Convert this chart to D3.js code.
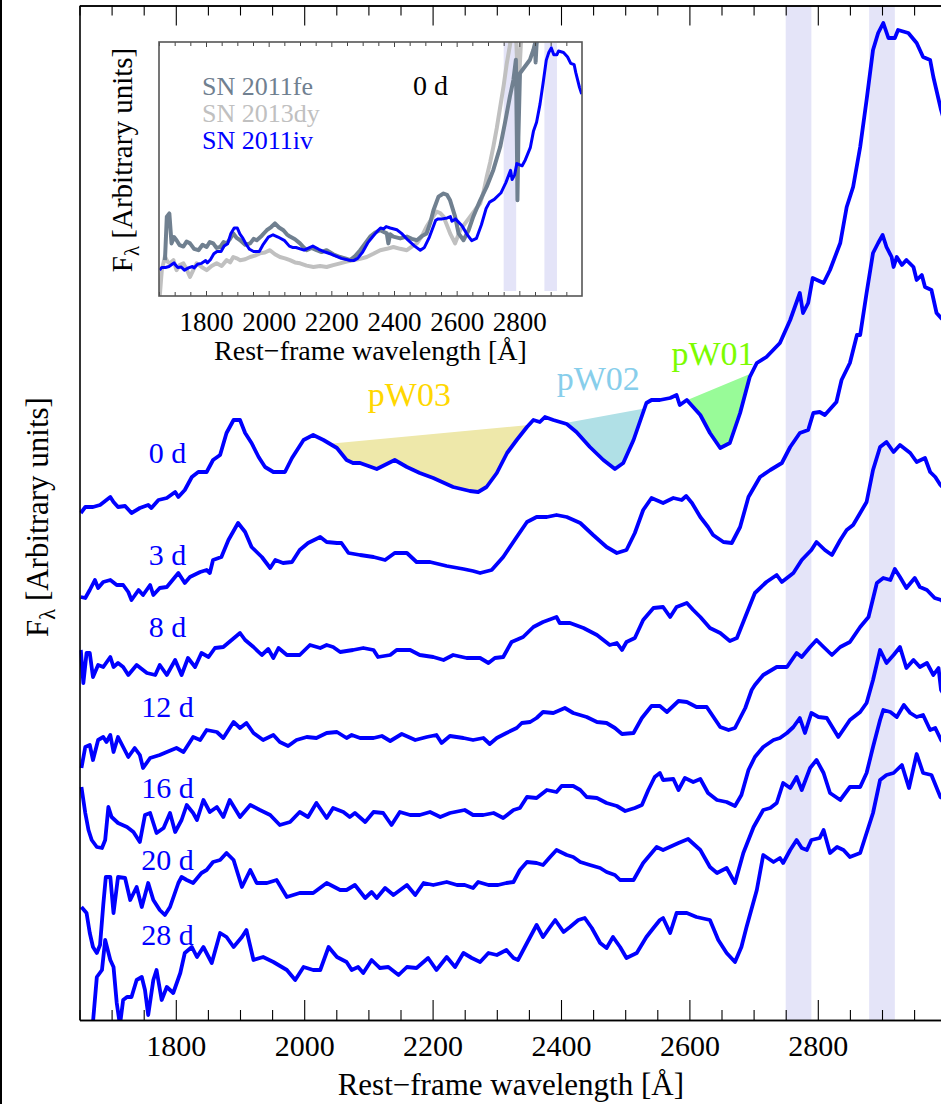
<!DOCTYPE html>
<html>
<head>
<meta charset="utf-8">
<script src="https://cdn.jsdelivr.net/npm/d3@7"></script>
<style>
  html, body { margin: 0; padding: 0; background: #fff; }
  svg { display: block; font-family: "Liberation Serif", "Times New Roman", serif; }
</style>
</head>
<body>
<svg id="chart" width="941" height="1104"></svg>
<script>
// ---------------------------------------------------------------------------
// SN 2011iv UV spectral sequence: [rest wavelength (Å), F_lambda (arbitrary, offset)]
// ---------------------------------------------------------------------------
const spec0d = [[1652,50.7],[1659,51.3],[1671,51.3],[1682,51.5],[1692,52.0],[1698,52.3],[1703,51.8],[1710,51.3],[1721,51.4],[1731,50.7],[1744,51.2],[1757,51.5],[1762,51.2],[1773,52.0],[1786,52.2],[1799,52.8],[1804,52.3],[1814,53.0],[1825,54.3],[1835,54.8],[1848,54.8],[1858,56.0],[1869,56.5],[1879,58.7],[1890,60.0],[1900,60.0],[1908,58.7],[1918,57.7],[1929,56.3],[1939,55.3],[1952,54.8],[1970,54.8],[1981,56.2],[1999,58.0],[2014,58.5],[2030,58.0],[2051,57.2],[2066,56.0],[2076,55.7],[2087,55.7],[2113,55.1],[2141,56.0],[2160,55.3],[2180,54.7],[2201,54.2],[2232,53.3],[2258,52.9],[2271,52.8],[2284,53.3],[2300,54.7],[2316,56.7],[2331,58.0],[2347,59.3],[2357,60.0],[2367,59.8],[2375,60.3],[2388,60.0],[2409,59.6],[2424,58.8],[2445,57.3],[2466,56.0],[2484,55.1],[2497,55.7],[2513,58.0],[2533,61.7],[2541,62.0],[2554,62.0],[2570,62.2],[2580,62.5],[2585,61.5],[2596,62.0],[2617,60.5],[2632,58.7],[2648,57.2],[2663,57.7],[2679,60.7],[2694,64.3],[2705,65.7],[2720,66.3],[2741,67.7],[2757,70.0],[2772,72.7],[2777,70.7],[2785,71.7],[2792,74.2],[2809,73.7],[2819,75.0],[2835,77.7],[2845,81.3],[2855,83.3],[2866,87.3],[2876,92.0],[2886,97.0],[2894,98.7],[2902,99.7],[2910,98.2],[2920,98.2],[2925,99.0],[2941,98.7],[2954,97.7],[2964,96.3],[2975,96.0],[2980,94.3],[2992,91.0],[2999,89.5]];

const spec3d = [[1652,42.3],[1659,42.2],[1666,43.0],[1674,44.0],[1679,43.2],[1687,43.8],[1698,44.0],[1708,43.5],[1718,43.5],[1726,42.8],[1731,42.0],[1742,43.0],[1749,42.5],[1760,43.5],[1765,42.5],[1775,43.2],[1786,43.3],[1804,44.7],[1814,43.7],[1822,44.3],[1838,44.8],[1848,45.0],[1853,44.7],[1858,46.0],[1871,46.3],[1882,48.0],[1897,49.7],[1908,48.8],[1918,47.3],[1926,46.8],[1934,46.3],[1947,45.2],[1955,46.0],[1967,45.7],[1981,45.8],[1993,47.0],[2006,47.7],[2025,48.3],[2035,47.8],[2051,47.7],[2058,47.7],[2069,46.7],[2087,46.5],[2108,46.3],[2126,46.0],[2141,46.7],[2160,46.7],[2175,45.8],[2196,45.8],[2222,45.4],[2248,45.1],[2263,44.9],[2274,44.7],[2292,45.0],[2310,46.3],[2331,48.3],[2347,49.8],[2362,50.3],[2378,50.3],[2393,50.5],[2409,50.3],[2430,49.7],[2450,48.5],[2471,47.3],[2487,46.7],[2502,47.0],[2515,48.7],[2528,51.0],[2541,52.2],[2559,51.7],[2575,52.2],[2588,52.0],[2595,52.4],[2604,51.7],[2617,50.3],[2629,49.3],[2637,48.5],[2653,47.8],[2666,47.7],[2679,49.3],[2692,52.3],[2710,54.3],[2726,55.0],[2744,55.7],[2757,57.3],[2772,58.7],[2785,59.0],[2793,60.7],[2803,60.8],[2811,60.5],[2829,61.8],[2837,64.0],[2850,65.7],[2861,68.5],[2866,68.5],[2876,72.7],[2886,76.7],[2894,77.7],[2901,78.5],[2907,77.3],[2915,76.3],[2918,75.3],[2923,76.3],[2931,75.5],[2938,76.0],[2949,75.3],[2954,74.0],[2962,74.5],[2967,73.3],[2977,73.0],[2985,70.7],[2992,70.2],[2999,69.8]];

const spec8d = [[1652,37.0],[1656,33.7],[1661,36.7],[1666,36.7],[1671,34.3],[1679,35.5],[1687,35.3],[1698,36.3],[1703,35.3],[1710,35.7],[1718,35.3],[1726,34.5],[1739,35.5],[1755,34.7],[1768,34.5],[1775,35.5],[1786,34.5],[1799,36.0],[1809,34.5],[1819,36.2],[1830,35.3],[1840,36.7],[1851,36.3],[1861,37.2],[1874,37.3],[1887,38.0],[1900,38.7],[1908,38.0],[1921,37.3],[1934,36.5],[1944,37.1],[1952,36.2],[1960,37.2],[1973,36.5],[1993,36.5],[2009,37.5],[2025,37.2],[2035,37.5],[2045,37.3],[2056,36.8],[2076,37.0],[2092,37.2],[2108,37.0],[2115,36.3],[2134,36.5],[2144,37.0],[2165,37.0],[2180,36.5],[2201,36.3],[2217,36.0],[2232,36.5],[2253,36.2],[2274,36.2],[2287,35.7],[2297,36.2],[2310,36.3],[2323,37.8],[2341,38.3],[2357,39.3],[2372,39.8],[2393,40.3],[2398,39.7],[2414,39.7],[2435,39.2],[2456,38.5],[2476,37.5],[2487,37.7],[2495,37.0],[2502,37.8],[2515,38.2],[2528,40.0],[2544,41.2],[2559,41.3],[2570,40.3],[2580,41.3],[2596,41.7],[2606,41.0],[2617,40.3],[2632,39.2],[2648,38.7],[2663,37.9],[2674,38.2],[2687,40.3],[2702,42.7],[2720,43.8],[2736,44.5],[2744,43.8],[2762,44.7],[2775,46.0],[2790,47.0],[2798,47.8],[2811,47.0],[2822,46.5],[2835,48.0],[2845,49.0],[2855,49.5],[2866,50.7],[2876,51.8],[2886,55.0],[2897,57.3],[2907,57.8],[2918,56.8],[2928,57.5],[2944,56.7],[2954,55.8],[2967,56.2],[2975,54.8],[2983,54.3],[2991,53.5],[2999,53.0]];

const spec12d = [[1653,25.2],[1659,27.3],[1666,27.5],[1671,26.0],[1679,28.0],[1687,28.3],[1692,27.8],[1698,28.5],[1703,26.8],[1710,28.3],[1718,27.3],[1726,26.3],[1736,27.2],[1744,26.5],[1749,25.2],[1760,26.2],[1775,26.5],[1786,26.8],[1801,27.2],[1812,26.8],[1827,28.3],[1838,28.0],[1848,29.0],[1864,28.8],[1874,28.2],[1890,29.8],[1900,29.2],[1910,29.7],[1921,28.7],[1936,28.0],[1952,28.5],[1962,27.8],[1975,27.4],[1988,28.0],[2004,28.3],[2019,28.2],[2035,28.7],[2051,28.8],[2066,28.2],[2074,28.5],[2087,28.2],[2108,28.2],[2121,28.4],[2134,27.9],[2152,28.6],[2173,28.0],[2191,28.3],[2206,28.5],[2214,27.7],[2227,28.4],[2248,28.2],[2263,28.0],[2279,28.2],[2289,27.6],[2300,28.2],[2315,28.7],[2331,29.2],[2339,29.7],[2352,29.8],[2362,30.2],[2372,30.8],[2388,30.7],[2406,31.2],[2419,30.7],[2440,30.3],[2456,29.8],[2471,29.7],[2484,29.2],[2495,28.6],[2513,28.7],[2526,30.2],[2541,31.4],[2554,31.4],[2565,30.8],[2583,31.9],[2596,31.8],[2611,31.3],[2627,31.3],[2648,29.3],[2661,29.0],[2671,29.2],[2687,31.2],[2697,33.0],[2702,33.5],[2715,34.5],[2736,35.3],[2752,35.3],[2767,36.7],[2775,36.3],[2788,37.3],[2798,38.0],[2809,37.3],[2822,36.5],[2835,37.3],[2850,37.8],[2866,39.3],[2879,40.3],[2892,43.7],[2902,44.2],[2913,44.0],[2920,45.1],[2928,44.3],[2938,43.2],[2951,44.2],[2959,43.3],[2970,43.0],[2982,42.2],[2992,42.0],[2999,41.6]];

const spec16d = [[1653,23.3],[1659,20.7],[1664,19.0],[1669,18.0],[1677,17.3],[1685,17.2],[1690,18.0],[1695,21.3],[1700,20.3],[1710,19.7],[1724,19.3],[1734,18.8],[1744,17.8],[1752,20.5],[1760,20.7],[1770,18.7],[1781,19.2],[1791,20.7],[1799,18.8],[1809,20.0],[1817,21.5],[1827,20.7],[1833,20.0],[1843,22.0],[1853,20.8],[1864,21.3],[1874,20.3],[1884,22.0],[1900,20.3],[1916,21.5],[1931,21.0],[1947,20.5],[1962,19.5],[1978,19.8],[1993,20.8],[2006,20.3],[2019,21.7],[2035,20.2],[2045,21.2],[2061,20.8],[2071,20.3],[2079,20.7],[2095,19.8],[2108,20.8],[2123,20.7],[2136,19.5],[2149,20.8],[2165,20.5],[2180,20.5],[2196,20.8],[2212,20.3],[2227,20.7],[2250,21.0],[2263,20.5],[2279,20.5],[2295,20.7],[2310,20.2],[2326,21.0],[2336,21.2],[2347,22.3],[2362,22.2],[2378,23.0],[2393,22.8],[2401,23.4],[2419,23.4],[2430,23.0],[2440,22.3],[2456,22.2],[2471,21.7],[2487,21.4],[2500,20.9],[2515,21.2],[2526,21.5],[2536,23.0],[2546,24.3],[2554,24.7],[2559,24.0],[2575,24.1],[2583,23.0],[2593,24.2],[2606,23.8],[2617,24.1],[2629,22.7],[2643,22.0],[2658,21.8],[2671,21.4],[2681,22.5],[2692,25.0],[2702,26.3],[2715,27.3],[2731,28.0],[2741,28.2],[2752,28.7],[2762,29.3],[2772,30.2],[2780,28.7],[2790,30.7],[2801,30.3],[2814,30.2],[2832,28.3],[2850,30.0],[2866,30.8],[2876,31.7],[2886,34.0],[2897,37.0],[2907,35.7],[2918,36.5],[2928,37.3],[2938,35.2],[2949,36.0],[2959,35.3],[2970,35.7],[2980,34.5],[2988,35.2],[2992,33.0],[2999,32.3]];

const spec20d = [[1653,11.3],[1661,10.7],[1666,8.7],[1671,7.3],[1677,6.7],[1682,7.5],[1687,11.5],[1691,14.3],[1698,14.3],[1703,10.7],[1710,14.3],[1721,14.2],[1729,12.0],[1739,13.3],[1747,11.3],[1757,13.7],[1765,12.0],[1775,11.0],[1783,10.5],[1791,11.3],[1804,13.7],[1809,14.3],[1817,14.0],[1827,13.7],[1840,14.7],[1848,15.0],[1858,15.8],[1869,16.0],[1879,16.7],[1890,16.0],[1903,13.3],[1916,15.0],[1926,13.7],[1942,13.7],[1957,14.0],[1973,12.3],[1993,12.7],[2014,12.7],[2035,13.7],[2056,13.0],[2066,13.0],[2079,13.5],[2095,12.2],[2105,12.8],[2113,12.2],[2126,13.2],[2139,12.5],[2160,13.5],[2173,12.5],[2186,13.7],[2201,13.5],[2222,13.8],[2238,13.5],[2250,13.5],[2263,13.2],[2271,13.8],[2287,13.5],[2302,13.5],[2315,13.7],[2326,13.8],[2336,15.0],[2347,15.8],[2362,15.7],[2372,15.5],[2383,16.3],[2393,17.0],[2409,16.5],[2419,16.3],[2430,15.8],[2445,15.5],[2461,15.2],[2471,14.8],[2484,14.5],[2492,14.0],[2513,14.0],[2528,15.7],[2549,17.3],[2559,17.0],[2583,17.7],[2598,18.1],[2617,17.0],[2632,15.3],[2643,14.7],[2658,15.2],[2671,13.7],[2684,16.7],[2700,19.3],[2715,21.0],[2726,21.2],[2736,21.7],[2746,23.7],[2757,23.2],[2767,24.3],[2775,23.0],[2788,25.2],[2798,26.0],[2809,24.7],[2819,22.7],[2835,22.0],[2850,23.3],[2866,23.3],[2876,24.7],[2886,27.3],[2897,30.0],[2902,31.0],[2913,30.8],[2923,30.3],[2934,31.5],[2944,30.7],[2954,30.3],[2964,30.5],[2975,29.0],[2983,29.2],[2992,28.0],[2999,27.5]];

const spec28d = [[1652,-0.5],[1663,-0.5],[1671,-0.2],[1677,4.3],[1685,5.0],[1690,8.0],[1698,6.0],[1703,5.3],[1708,1.7],[1713,-0.5],[1718,2.0],[1724,2.3],[1731,2.3],[1739,4.0],[1747,4.3],[1752,3.0],[1757,0.5],[1765,4.0],[1770,5.0],[1778,2.0],[1786,3.3],[1796,2.7],[1807,4.7],[1814,6.7],[1825,7.3],[1833,6.3],[1843,7.3],[1856,5.7],[1869,8.7],[1879,8.3],[1890,7.3],[1903,8.3],[1910,9.0],[1921,6.0],[1936,6.3],[1952,5.8],[1973,5.0],[1986,4.0],[1999,5.3],[2014,5.0],[2025,5.0],[2038,7.3],[2051,6.3],[2066,5.8],[2074,5.0],[2084,5.3],[2092,4.7],[2105,6.0],[2113,5.5],[2118,5.2],[2131,5.3],[2147,4.5],[2160,5.3],[2175,5.2],[2193,6.2],[2206,5.0],[2222,6.3],[2235,5.3],[2248,6.7],[2261,6.2],[2274,5.8],[2287,6.7],[2300,6.5],[2315,7.0],[2326,6.2],[2333,6.0],[2347,7.7],[2362,9.5],[2372,8.3],[2383,9.3],[2391,10.0],[2404,8.8],[2414,9.3],[2427,10.0],[2437,10.2],[2448,9.2],[2461,7.7],[2471,7.2],[2481,8.3],[2492,7.3],[2502,6.2],[2518,6.7],[2533,8.3],[2544,9.2],[2554,10.0],[2559,10.2],[2570,8.7],[2580,10.7],[2596,10.7],[2611,10.3],[2632,10.0],[2645,8.0],[2658,6.7],[2671,5.8],[2681,7.3],[2689,9.3],[2705,13.0],[2715,16.5],[2731,15.8],[2741,16.2],[2746,15.7],[2757,17.0],[2767,18.0],[2775,17.2],[2783,17.0],[2790,18.0],[2803,18.2],[2809,19.0],[2819,16.7],[2830,17.3],[2840,17.0],[2850,16.3],[2866,16.7],[2876,18.7],[2886,20.7],[2897,24.0],[2907,24.5],[2918,24.7],[2931,25.5],[2942,23.2],[2954,26.6],[2964,24.7],[2977,24.5],[2991,22.3],[2999,22.0]];

const epochs = ["0 d", "3 d", "8 d", "12 d", "16 d", "20 d", "28 d"];
const spectra = [spec0d, spec3d, spec8d, spec12d, spec16d, spec20d, spec28d];

// Comparison spectra at maximum light (same arbitrary flux units as the 0 d curve)
const sn2011fe = [[1669,52.9],[1675,62.5],[1683,63.2],[1690,56.6],[1698,58.0],[1706,57.3],[1716,56.2],[1728,55.9],[1738,57.0],[1749,56.6],[1762,55.4],[1776,55.1],[1789,56.3],[1802,55.8],[1812,56.9],[1823,56.6],[1834,55.6],[1845,55.8],[1856,56.9],[1866,56.6],[1877,57.6],[1887,58.8],[1898,57.8],[1909,57.3],[1925,56.3],[1941,56.6],[1952,57.6],[1962,57.3],[1978,58.3],[1994,59.5],[2008,60.2],[2020,61.0],[2033,60.1],[2047,59.5],[2058,58.6],[2068,58.1],[2084,57.5],[2100,56.6],[2111,55.8],[2121,55.1],[2137,55.6],[2153,55.1],[2169,54.7],[2185,55.1],[2206,54.2],[2228,53.6],[2244,53.3],[2260,52.9],[2276,53.8],[2292,55.1],[2308,56.6],[2324,58.1],[2340,59.0],[2356,59.5],[2377,58.8],[2382,56.6],[2388,58.6],[2398,58.1],[2420,57.7],[2441,58.1],[2457,57.6],[2473,57.3],[2489,58.2],[2504,58.8],[2515,61.0],[2526,63.9],[2542,66.9],[2558,67.6],[2569,67.3],[2579,66.1],[2595,62.5],[2606,58.8],[2622,57.3],[2638,59.5],[2653,62.5],[2675,66.1],[2696,69.1],[2717,72.8],[2739,77.9],[2754,83.1],[2770,89.0],[2781,92.6],[2789,97.1],[2792,80.0],[2794,66.1],[2797,80.0],[2802,94.1],[2818,95.6],[2834,97.1],[2845,99.3],[2850,100.7],[2852,96.5],[2855,100.5],[2861,103.7]];

const sn2013dy = [[1651,44.5],[1653,45.5],[1659,50.7],[1669,53.7],[1677,52.6],[1685,52.2],[1696,52.9],[1706,50.7],[1716,51.8],[1728,52.2],[1738,50.9],[1749,49.2],[1760,50.8],[1770,52.2],[1786,51.4],[1802,50.7],[1818,51.6],[1834,52.2],[1850,51.6],[1866,52.9],[1877,52.4],[1887,53.6],[1898,53.3],[1909,52.9],[1925,53.1],[1941,53.6],[1956,53.9],[1972,54.4],[1988,54.6],[2004,55.1],[2020,54.2],[2036,53.6],[2052,53.3],[2068,52.9],[2084,52.4],[2100,52.2],[2121,51.7],[2143,51.4],[2164,51.6],[2185,51.4],[2206,51.8],[2228,52.2],[2249,52.6],[2270,52.9],[2292,53.2],[2313,53.6],[2334,54.3],[2356,55.1],[2377,55.4],[2398,55.8],[2420,55.4],[2441,55.1],[2457,55.9],[2473,56.6],[2489,58.2],[2504,60.3],[2520,62.0],[2536,63.6],[2547,63.3],[2558,62.5],[2569,60.6],[2579,58.8],[2595,56.6],[2611,59.5],[2627,61.0],[2643,62.5],[2659,64.0],[2675,65.4],[2686,68.0],[2696,71.3],[2707,74.5],[2717,77.9],[2728,82.0],[2739,86.7],[2750,91.4],[2760,96.3],[2771,100.7],[2776,103.7],[2788,103.7],[2790,101.5],[2797,89.7],[2805,100.7],[2813,103.7]];

// Mg II / blended feature windows shaded in both panels (Å)
const featureBands = [[2750, 2790], [2880, 2920]];

// pseudo-equivalent-width regions measured on the 0 d spectrum (Å)
const pwNames = ["pW03", "pW02", "pW01"];
const pwRanges = [[2040, 2350], [2405, 2530], [2595, 2697]];
const pwFill = ["#eee8aa", "#b0e0e6", "#98fb98"];
const pwText = ["#ffd700", "#87ceeb", "#7cfc00"];

// wavelength ticks
const majorTicks = [1800, 2000, 2200, 2400, 2600, 2800];
const minorTicks = d3.range(1650, 3001, 50).filter(v => v % 200 !== 0);

// inset legend
const insetNames = ["SN 2011fe", "SN 2013dy", "SN 2011iv"];
const insetColors = ["#708090", "#c0c0c0", "#0000ff"];

// ---------------------------------------------------------------------------
const svg = d3.select("#chart");
const FONT = "'Liberation Serif', 'Times New Roman', serif";

const frame = { left: 79.5, right: 946.2, top: 5.5, bottom: 1020 };
const x = d3.scaleLinear().domain([1650, 3000]).range([frame.left, frame.right]);
const y = d3.scaleLinear().domain([0, 101.45]).range([frame.bottom, frame.top]);

const defs = svg.append("defs");
defs.append("clipPath").attr("id", "clip-main").append("rect")
  .attr("x", frame.left).attr("y", frame.top)
  .attr("width", frame.right - frame.left).attr("height", frame.bottom - frame.top);

// thin page border on the left edge
svg.append("rect").attr("x", 0).attr("y", 0).attr("width", 2).attr("height", 1104).attr("fill", "#000");

const plot = svg.append("g").attr("clip-path", "url(#clip-main)");

plot.selectAll("rect.band").data(featureBands).join("rect")
  .attr("class", "band")
  .attr("x", d => x(d[0])).attr("width", d => x(d[1]) - x(d[0]))
  .attr("y", frame.top).attr("height", frame.bottom - frame.top)
  .attr("fill", "#e4e4f8");

// linear interpolation of a spectrum at wavelength w
function fluxAt(spec, w) {
  const i = d3.bisector(d => d[0]).left(spec, w);
  if (i <= 0) return spec[0][1];
  if (i >= spec.length) return spec[spec.length - 1][1];
  const a = spec[i - 1], b = spec[i];
  const t = (w - a[0]) / (b[0] - a[0]);
  return a[1] + t * (b[1] - a[1]);
}

// pseudo-continuum polygons on the 0 d spectrum
const pwPolys = pwRanges.map(([w1, w2]) => {
  const inner = spec0d.filter(d => d[0] > w1 && d[0] < w2);
  return [[w1, fluxAt(spec0d, w1)], ...inner, [w2, fluxAt(spec0d, w2)]];
});
plot.selectAll("path.pw").data(pwPolys).join("path")
  .attr("class", "pw")
  .attr("d", d => "M" + d.map(p => x(p[0]) + "," + y(p[1])).join("L") + "Z")
  .attr("fill", (d, i) => pwFill[i]).attr("stroke", "none");

const line = d3.line().x(d => x(d[0])).y(d => y(d[1]));
plot.selectAll("path.spec").data(spectra).join("path")
  .attr("class", "spec")
  .attr("d", line)
  .attr("fill", "none").attr("stroke", "#0000ff")
  .attr("stroke-width", 3.8).attr("stroke-linejoin", "round");

// pW labels above each pseudo-continuum
const pwLabelLift = [28, 26, 22];
const pwLabelShift = [-20, -6, -6];
svg.selectAll("text.pwlab").data(pwNames).join("text")
  .attr("class", "pwlab")
  .attr("x", (d, i) => x((pwRanges[i][0] + pwRanges[i][1]) / 2) + pwLabelShift[i])
  .attr("y", (d, i) => y((fluxAt(spec0d, pwRanges[i][0]) + fluxAt(spec0d, pwRanges[i][1])) / 2) - pwLabelLift[i])
  .attr("text-anchor", "middle")
  .attr("font-family", FONT).attr("font-size", 34)
  .attr("fill", (d, i) => pwText[i])
  .text(d => d);

// epoch labels (left, in the blue of the spectra)
const epochLabelFlux = [55.7, 45.5, 38.3, 30.3, 22.2, 15.0, 7.5];
svg.selectAll("text.epoch").data(epochs).join("text")
  .attr("class", "epoch")
  .attr("x", x(1787)).attr("y", (d, i) => y(epochLabelFlux[i]))
  .attr("text-anchor", "middle")
  .attr("font-family", FONT).attr("font-size", 30)
  .attr("fill", "#0000ff")
  .text(d => d);

// axes
const axisStyle = g => {
  g.selectAll("path.domain").attr("stroke", "#000").attr("stroke-width", 1.6);
  g.selectAll(".tick line").attr("stroke", "#000").attr("stroke-width", 1.1);
  g.selectAll(".tick text").attr("font-family", FONT).attr("font-size", 30).attr("fill", "#000");
};

const axisB = svg.append("g").attr("transform", `translate(0,${frame.bottom})`);
axisB.append("g").call(d3.axisBottom(x).tickValues(minorTicks).tickSize(-10).tickSizeOuter(0).tickFormat(""))
  .call(axisStyle);
axisB.append("g").call(d3.axisBottom(x).tickValues(majorTicks).tickSize(-20).tickSizeOuter(0).tickPadding(15).tickFormat(d3.format("d")))
  .call(axisStyle);

const axisT = svg.append("g").attr("transform", `translate(0,${frame.top})`);
axisT.append("g").call(d3.axisTop(x).tickValues(minorTicks).tickSize(-10).tickSizeOuter(0).tickFormat(""))
  .call(axisStyle);
axisT.append("g").call(d3.axisTop(x).tickValues(majorTicks).tickSize(-20).tickSizeOuter(0).tickFormat(""))
  .call(axisStyle);

svg.append("g").attr("transform", `translate(${frame.left},0)`)
  .call(d3.axisLeft(y).tickValues([]).tickSizeOuter(0))
  .call(axisStyle);

svg.append("text")
  .attr("x", (frame.left + frame.right) / 2 - 2).attr("y", 1095)
  .attr("text-anchor", "middle")
  .attr("font-family", FONT).attr("font-size", 31)
  .text("Rest\u2212frame wavelength [\u00c5]");

function fLambdaLabel(sel, size, sub) {
  sel.append("tspan").text("F");
  sel.append("tspan").attr("dy", sub).attr("font-size", size * 0.72).text("\u03bb");
  sel.append("tspan").attr("dy", -sub).text(" [Arbitrary units]");
}
svg.append("text")
  .attr("transform", "translate(48,517) rotate(-90)")
  .attr("text-anchor", "middle")
  .attr("font-family", FONT).attr("font-size", 31)
  .call(fLambdaLabel, 31, 7);

// ---------------------------------------------------------------------------
// inset: SN 2011iv at 0 d against SN 2011fe and SN 2013dy
// ---------------------------------------------------------------------------
const ibox = { left: 159, right: 582, top: 42, bottom: 296 };
const ix = d3.scaleLinear().domain([1650, 3000]).range([ibox.left, ibox.right]);
const iy = d3.scaleLinear().domain([45, 101]).range([ibox.bottom, ibox.top]);

defs.append("clipPath").attr("id", "clip-inset").append("rect")
  .attr("x", ibox.left).attr("y", ibox.top)
  .attr("width", ibox.right - ibox.left).attr("height", ibox.bottom - ibox.top);

const inset = svg.append("g");
inset.append("rect")
  .attr("x", ibox.left).attr("y", ibox.top)
  .attr("width", ibox.right - ibox.left).attr("height", ibox.bottom - ibox.top)
  .attr("fill", "#fff");

const iplot = inset.append("g").attr("clip-path", "url(#clip-inset)");
iplot.selectAll("rect.band").data(featureBands).join("rect")
  .attr("x", d => ix(d[0])).attr("width", d => ix(d[1]) - ix(d[0]))
  .attr("y", ibox.top + 1).attr("height", iy(46.1) - ibox.top - 1)
  .attr("fill", "#e4e4f8");

const iline = d3.line().x(d => ix(d[0])).y(d => iy(d[1]));
iplot.selectAll("path.cmp").data([sn2013dy, sn2011fe, spec0d]).join("path")
  .attr("d", iline).attr("fill", "none")
  .attr("stroke", (d, i) => [insetColors[1], insetColors[0], insetColors[2]][i])
  .attr("stroke-width", (d, i) => [4, 4, 3][i])
  .attr("stroke-linejoin", "round");

const iaxisB = inset.append("g").attr("transform", `translate(0,${ibox.bottom})`);
iaxisB.append("g").call(d3.axisBottom(ix).tickValues(minorTicks).tickSize(-4).tickSizeOuter(0).tickFormat(""));
iaxisB.append("g").call(d3.axisBottom(ix).tickValues(majorTicks).tickSize(-5).tickSizeOuter(0).tickPadding(16).tickFormat(d3.format("d")));
const iaxisT = inset.append("g").attr("transform", `translate(0,${ibox.top})`);
iaxisT.append("g").call(d3.axisTop(ix).tickValues(minorTicks).tickSize(-4).tickSizeOuter(0).tickFormat(""));
iaxisT.append("g").call(d3.axisTop(ix).tickValues(majorTicks).tickSize(-5).tickSizeOuter(0).tickFormat(""));
inset.selectAll("path.domain").remove();
inset.selectAll(".tick line").attr("stroke", "#444").attr("stroke-width", 1);
inset.selectAll(".tick text").attr("font-family", FONT).attr("font-size", 27).attr("fill", "#000");

inset.append("rect")
  .attr("x", ibox.left).attr("y", ibox.top)
  .attr("width", ibox.right - ibox.left).attr("height", ibox.bottom - ibox.top)
  .attr("fill", "none").attr("stroke", "#555").attr("stroke-width", 1.6);

inset.append("text")
  .attr("x", (ibox.left + ibox.right) / 2).attr("y", 360)
  .attr("text-anchor", "middle")
  .attr("font-family", FONT).attr("font-size", 28)
  .text("Rest\u2212frame wavelength [\u00c5]");

inset.append("text")
  .attr("transform", "translate(132,160) rotate(-90)")
  .attr("text-anchor", "middle")
  .attr("font-family", FONT).attr("font-size", 29)
  .call(fLambdaLabel, 29, 7);

inset.selectAll("text.leg").data(insetNames).join("text")
  .attr("class", "leg")
  .attr("x", 202).attr("y", (d, i) => 95 + i * 27)
  .attr("font-family", FONT).attr("font-size", 26)
  .attr("fill", (d, i) => insetColors[i])
  .text(d => d);

inset.append("text")
  .attr("x", 413).attr("y", 95)
  .attr("font-family", FONT).attr("font-size", 28)
  .attr("fill", "#000")
  .text(epochs[0]);
</script>
</body>
</html>
